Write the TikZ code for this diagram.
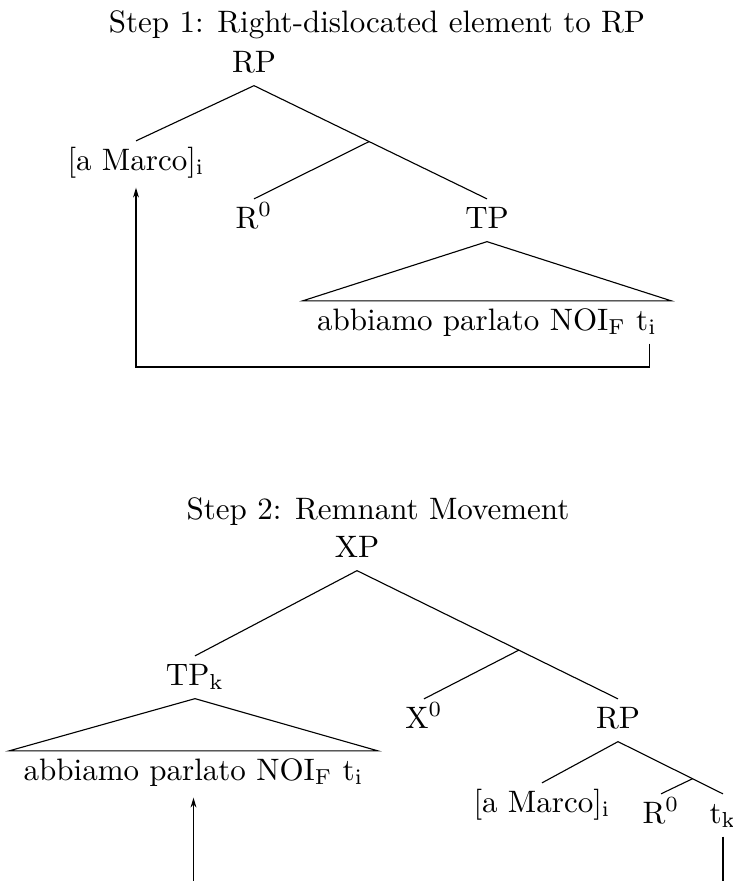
\documentclass[tikz,border=0pt]{standalone}
\usetikzlibrary{calc,arrows.meta}

\begin{document}
\begin{tikzpicture}[
  x=0.32258pt, y=-0.32258pt,
  lbl/.style={inner sep=2.3pt, text height=6.9pt, text depth=1.9pt},
  yieldtext/.style={inner xsep=4.5pt, inner ysep=2.3pt, text height=6.9pt, text depth=1.9pt},
  heading/.style={inner sep=0pt},
  branch/.style={line width=0.36pt},
  move/.style={line width=0.36pt, -{Stealth[length=3.2pt,width=1.9pt]}, shorten >=1.3pt},
]
\useasboundingbox (0,0) rectangle (733,881);

% ---------- Step 1 ----------
\node[heading, anchor=base] (head1) at (377,32) {Step 1: Right-dislocated element to RP};

\node[lbl, anchor=base] (rpA) at (254,72) {RP};
\node[lbl, anchor=base] (amA) at (136,170) {[a Marco]$_\mathrm{i}$};
\node[lbl, anchor=base] (r0A) at (254,228) {R$^0$};
\node[lbl, anchor=base] (tpA) at (487,228) {TP};
\node[yieldtext, anchor=base] (yA) at (487,330) {abbiamo parlato NOI$_\mathrm{F}$ t$_\mathrm{i}$};

\coordinate (barA) at ($(rpA.south)!0.494!(tpA.north)$);
\coordinate (tiA) at ([xshift=-7.1pt]yA.south east);
\coordinate (lowA) at (0,367);

\draw[branch] (amA.north) -- (rpA.south) -- (barA) -- (tpA.north);
\draw[branch] (barA) -- (r0A.north);
\draw[branch] (tpA.south) -- (yA.north west) -- (yA.north east) -- cycle;

\draw[move] (tiA) -- (tiA |- lowA) -- (amA.south |- lowA) -- (amA.south);

% ---------- Step 2 ----------
\node[heading, anchor=base] (head2) at (378,519) {Step 2: Remnant Movement};

\node[lbl, anchor=base] (xpB) at (357,557) {XP};
\node[lbl, anchor=base] (tpB) at (195,685) {TP$_\mathrm{k}$};
\node[yieldtext, anchor=base] (yB) at (193.5,780) {abbiamo parlato NOI$_\mathrm{F}$ t$_\mathrm{i}$};
\node[lbl, anchor=base] (x0B) at (424,728) {X$^0$};
\node[lbl, anchor=base] (rpB) at (618,728) {RP};
\node[lbl, anchor=base] (amB) at (542,812) {[a Marco]$_\mathrm{i}$};
\node[lbl, anchor=base] (r0B) at (661,823) {R$^0$};
\node[lbl, anchor=base] (tkB) at (723,823) {t$_\mathrm{k}$};

\coordinate (barB) at ($(xpB.south)!0.62!(rpB.north)$);
\coordinate (barC) at ($(rpB.south)!0.71!(tkB.north)$);
\coordinate (lowB) at (0,905);

\draw[branch] (tpB.north) -- (xpB.south) -- (barB) -- (rpB.north);
\draw[branch] (barB) -- (x0B.north);
\draw[branch] (tpB.south) -- (yB.north west) -- (yB.north east) -- cycle;
\draw[branch] (amB.north) -- (rpB.south) -- (barC) -- (tkB.north);
\draw[branch] (barC) -- (r0B.north);

\draw[move] (tkB.south) -- (tkB.south |- lowB) -- (yB.south |- lowB) -- (yB.south);
\end{tikzpicture}
\end{document}
